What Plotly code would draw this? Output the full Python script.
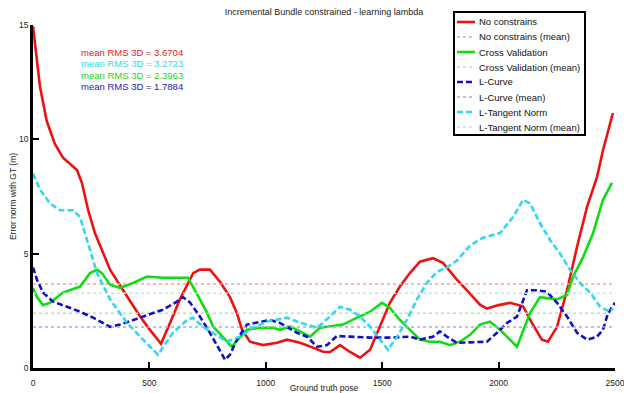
import plotly.graph_objects as go

# Per-pose 3D error (m) for each lambda-selection strategy
nc_pose = [0, 8, 30, 59, 94, 129, 189, 210, 237, 266, 331, 387, 460, 500, 550, 590, 631, 688, 717, 760,
           803, 846, 876, 898, 932, 988, 1048, 1091, 1147, 1203, 1246, 1276, 1319, 1362, 1405, 1448, 1490,
           1533, 1576, 1619, 1662, 1718, 1761, 1821, 1877, 1920, 1950, 2000, 2049, 2105, 2143, 2186, 2212,
           2251, 2294, 2337, 2380, 2423, 2448, 2491]
nc_err = [14.95, 14.3, 12.3, 10.8, 9.8, 9.2, 8.66, 8.1, 6.9, 5.9, 4.3, 3.4, 2.25, 1.7, 1.06, 2.0, 3.0, 4.15, 4.3, 4.3,
          3.77, 3.1, 2.4, 1.67, 1.15, 1.0, 1.1, 1.24, 1.1, 0.89, 0.71, 0.7, 1.0, 0.7, 0.45, 0.8, 1.8,
          2.85, 3.56, 4.15, 4.65, 4.8, 4.6, 3.86, 3.25, 2.77, 2.6, 2.75, 2.85, 2.7, 1.97, 1.24, 1.15,
          1.8, 3.4, 5.3, 7.05, 8.36, 9.5, 11.15]

cv_pose = [0, 17, 43, 73, 129, 202, 245, 275, 296, 331, 374, 430, 490, 558, 631, 666, 687, 717, 747, 773,
           816, 854, 880, 919, 975, 1031, 1061, 1104, 1147, 1190, 1233, 1276, 1332, 1392, 1448, 1499, 1533,
           1576, 1619, 1662, 1705, 1748, 1791, 1834, 1877, 1920, 1963, 2006, 2079, 2135, 2178, 2251, 2294,
           2320, 2363, 2406, 2448, 2487]
cv_err = [3.5, 3.1, 2.75, 2.85, 3.3, 3.56, 4.15, 4.3, 4.15, 3.64, 3.5, 3.72, 4.0, 3.95, 3.95, 3.95, 3.56, 3.0, 2.43, 1.82,
          1.37, 0.93, 1.24, 1.67, 1.76, 1.76, 1.67, 1.82, 1.6, 1.37, 1.76, 1.82, 1.9, 2.2, 2.46, 2.85, 2.63,
          2.1, 1.67, 1.24, 1.15, 1.15, 1.0, 1.15, 1.45, 1.9, 2.03, 1.67, 0.93, 2.4, 3.1, 3.0, 3.2,
          4.0, 4.85, 5.9, 7.35, 8.1]

lc_pose = [0, 17, 43, 86, 146, 202, 258, 301, 331, 374, 430, 490, 558, 618, 644, 674, 717, 760, 803, 825,
           846, 876, 919, 975, 1018, 1061, 1091, 1134, 1177, 1220, 1263, 1305, 1362, 1448, 1533, 1619, 1662,
           1718, 1748, 1778, 1821, 1877, 1950, 1993, 2036, 2079, 2122, 2165, 2208, 2251, 2294, 2337, 2380,
           2423, 2448, 2470, 2500]
lc_err = [4.4, 3.86, 3.3, 2.9, 2.68, 2.46, 2.2, 1.97, 1.8, 1.9, 2.1, 2.33, 2.55, 2.9, 3.1, 2.87, 2.25, 1.54, 0.8, 0.36,
          0.58, 1.24, 1.9, 2.03, 2.1, 1.97, 1.8, 1.54, 1.37, 0.93, 1.0, 1.4, 1.37, 1.33, 1.33, 1.37, 1.24,
          1.37, 1.6, 1.37, 1.1, 1.12, 1.15, 1.54, 1.97, 2.25, 3.4, 3.4, 3.33, 2.85, 2.25, 1.54, 1.24,
          1.37, 1.67, 2.4, 2.85]

lt_pose = [0, 30, 73, 116, 172, 202, 232, 275, 331, 404, 473, 537, 601, 662, 687, 730, 773, 833, 889, 945,
           1005, 1048, 1091, 1134, 1177, 1220, 1246, 1289, 1319, 1362, 1405, 1448, 1490, 1525, 1564, 1606,
           1649, 1692, 1735, 1778, 1821, 1877, 1933, 2006, 2062, 2105, 2135, 2178, 2221, 2264, 2307, 2350,
           2393, 2436, 2478, 2491]
lt_err = [8.5, 7.8, 7.2, 6.9, 6.9, 6.6, 5.6, 4.15, 3.0, 1.97, 1.24, 0.58, 1.54, 2.1, 2.2, 1.8, 1.54, 1.15, 1.37, 1.76,
          2.03, 2.1, 2.2, 2.03, 1.9, 1.76, 1.97, 2.4, 2.68, 2.55, 2.25, 1.8, 1.24, 0.8, 1.37, 2.1,
          3.0, 3.72, 4.2, 4.4, 4.7, 5.35, 5.7, 5.9, 6.6, 7.35, 7.2, 6.33, 5.6, 5.0, 4.3, 3.72,
          3.3, 2.68, 2.46, 2.6]

# Mean RMS 3D of each strategy
mean_rms = {"No constrains": 3.6704, "L-Tangent Norm": 3.2723, "Cross Validation": 2.3963, "L-Curve": 1.7884}
mean_span = [0, 2490]

x_ticks = [0, 500, 1000, 1500, 2000, 2500]
y_ticks = [0, 5, 10, 15]

FONT = "Liberation Sans, Arial, Helvetica, sans-serif"

series = [
    # name, pose, err, colour, dash, mean colour
    ("No constrains", nc_pose, nc_err, "#f01010", "solid", "#f7a0a0"),
    ("Cross Validation", cv_pose, cv_err, "#10dd10", "solid", "#a6eda6"),
    ("L-Curve", lc_pose, lc_err, "#1010c8", "6px,3px", "#a8a8f4"),
    ("L-Tangent Norm", lt_pose, lt_err, "#30d8ee", "6px,3px", "#a8f0f8"),
]

fig = go.Figure()
legend_items = []
for name, pose, err, col, dash, mcol in series:
    fig.add_trace(go.Scatter(x=pose, y=err, mode="lines", name=name,
                             line=dict(color=col, width=2.6, dash=dash), showlegend=False))
    fig.add_trace(go.Scatter(x=mean_span, y=[mean_rms[name]] * 2, mode="lines", name=name + " (mean)",
                             line=dict(color=mcol, width=1.5, dash="dot"), showlegend=False))
    legend_items.append((name, col, dash, 2.6))
    legend_items.append((name + " (mean)", mcol, "dot", 1.5))

# Plot-area geometry in pixels, used to place the boxed legend
W, H = 624, 393
L, R, T, B = 33, 9, 25, 25
pw, ph = W - L - R, H - T - B


def px(xp):
    return (xp - L) / pw


def py(yp):
    return (H - B - yp) / ph


shapes = [dict(type="rect", xref="paper", yref="paper", x0=px(454), x1=px(585), y0=py(135), y1=py(12),
               line=dict(color="black", width=2), fillcolor="white", layer="above")]
annotations = []
for i, (label, col, dash, w) in enumerate(legend_items):
    yc = 22 + 15 * i
    shapes.append(dict(type="line", xref="paper", yref="paper", x0=px(457), x1=px(475), y0=py(yc), y1=py(yc),
                       line=dict(color=col, width=w, dash=dash), layer="above"))
    annotations.append(dict(xref="paper", yref="paper", x=px(477), y=py(yc), text=label, showarrow=False,
                            xanchor="left", yanchor="middle", font=dict(family=FONT, size=9.5, color="#111")))

# Mean RMS read-outs
rms_order = [("No constrains", "#e82020"), ("L-Tangent Norm", "#30d8ee"),
             ("Cross Validation", "#20d820"), ("L-Curve", "#2020c0")]
for i, (name, col) in enumerate(rms_order):
    annotations.append(dict(xref="paper", yref="paper", x=px(79), y=py(53 + 11 * i),
                            text=f"mean RMS 3D = {mean_rms[name]:.4f}", showarrow=False,
                            xanchor="left", yanchor="middle", font=dict(family=FONT, size=9.5, color=col)))

fig.update_layout(
    width=W, height=H,
    margin=dict(l=L, r=R, t=T, b=B, autoexpand=False),
    paper_bgcolor="white", plot_bgcolor="white",
    font=dict(family=FONT, size=8.5, color="#222"),
    title=dict(text="Incremental Bundle constrained - learning lambda", x=0.5, xref="paper",
               y=1 - 12 / H, yref="container", yanchor="middle", xanchor="center",
               font=dict(family=FONT, size=9, color="#222")),
    shapes=shapes, annotations=annotations, showlegend=False,
)
fig.update_xaxes(range=[0, 2500], tickvals=x_ticks, ticks="inside", ticklen=6, tickwidth=2, tickcolor="black",
                 showline=True, linecolor="black", linewidth=2.5, showgrid=False, zeroline=False,
                 ticklabelstandoff=5, ticklabeloverflow="allow", automargin=False,
                 title=dict(text="Ground truth pose", standoff=4, font=dict(size=8.5)))
fig.update_yaxes(range=[0, 15], tickvals=y_ticks, ticks="inside", ticklen=6, tickwidth=2, tickcolor="black",
                 showline=True, linecolor="black", linewidth=2.5, showgrid=False, zeroline=False,
                 automargin=False,
                 title=dict(text="Error norm with GT (m)", standoff=2, font=dict(size=8.5)))

fig.write_html("out.html")
